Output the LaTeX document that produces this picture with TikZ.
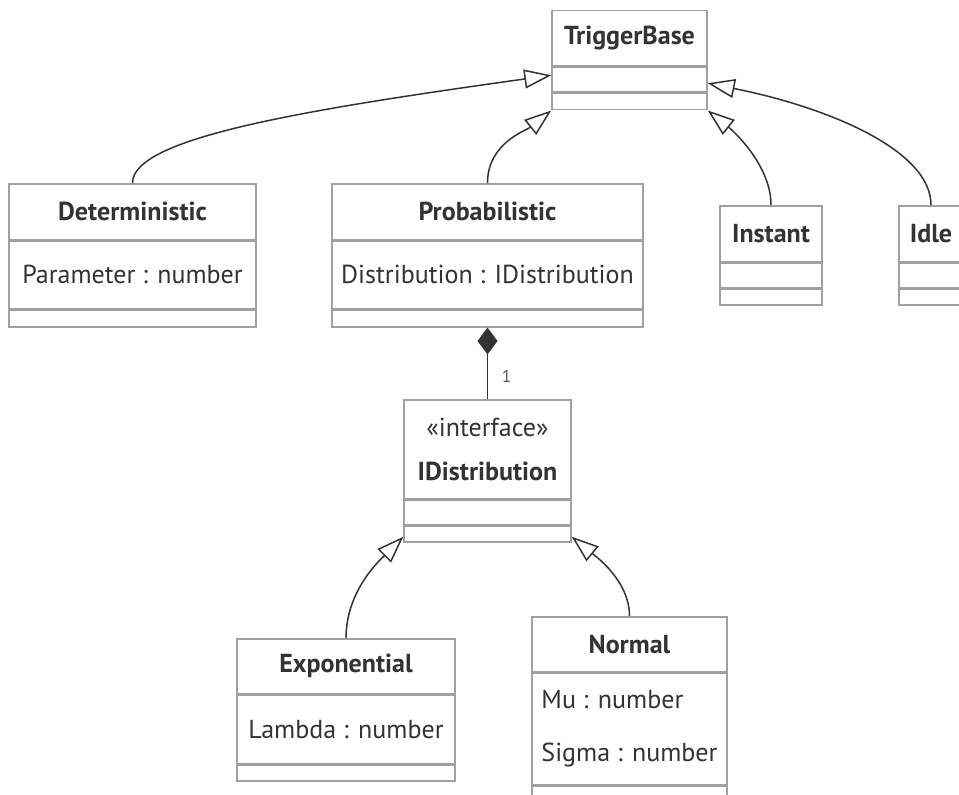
\documentclass[tikz,border=0pt]{standalone}
\usepackage{fontspec}
\setmainfont{PT Sans}
\usepackage{xcolor}
\usetikzlibrary{shapes,arrows.meta,positioning}
\definecolor{boxcolor}{RGB}{160,160,160}
\definecolor{textcolor}{RGB}{51,51,51}
\definecolor{linkcolor}{RGB}{51,51,51}
\definecolor{multcolor}{RGB}{90,90,90}
\newcommand{\px}{0.75pt}

\begin{document}
\begin{tikzpicture}[
    x=\px, y=-\px,
    every node/.style={font=\fontsize{19.5}{23}\selectfont, text=textcolor},
    classhead/.style={rectangle, draw=boxcolor, line width=1.5*\px, fill=white, inner sep=0pt, align=center, font=\fontsize{19.5}{23}\selectfont\bfseries},
    classbody/.style={rectangle, draw=boxcolor, line width=1.5*\px, fill=white, inner sep=0pt, align=left},
    inherit/.style={-{Triangle[open, length=27*\px, width=19*\px]}, draw=linkcolor, line width=1.5*\px},
    compose/.style={{Diamond[length=27*\px, width=20*\px]}-, draw=linkcolor, line width=1.5*\px},
    mult/.style={font=\fontsize{13}{15}\selectfont, text=multcolor}
]

% canvas
\useasboundingbox (0,0) rectangle (959,795);
\clip (0,0) rectangle (959,795);
\fill[white] (0,0) rectangle (959,795);

% Base class on top
\node[classhead, minimum width=155*\px, minimum height=55*\px, anchor=north] (base) at (629.5,10) {TriggerBase};
\node[classbody, minimum width=155*\px, minimum height=25*\px, below=0pt of base] (baseattr) {};
\node[classbody, minimum width=155*\px, minimum height=16*\px, below=0pt of baseattr] (baseops) {};

% Trigger classes - one row
\node[classhead, minimum width=247*\px, minimum height=56*\px, anchor=north] (det) at (132.5,183) {Deterministic};
\node[classbody, minimum width=247*\px, minimum height=67*\px, below=0pt of det] (detattr) {Parameter : number};
\node[classbody, minimum width=247*\px, minimum height=17*\px, below=0pt of detattr] (detops) {};

\node[classhead, minimum width=311*\px, minimum height=56*\px, anchor=north] (prob) at (487.5,183) {Probabilistic};
\node[classbody, minimum width=311*\px, minimum height=67*\px, below=0pt of prob] (probattr) {Distribution : IDistribution};
\node[classbody, minimum width=311*\px, minimum height=17*\px, below=0pt of probattr] (probops) {};

\node[classhead, minimum width=102*\px, minimum height=56*\px, anchor=north] (inst) at (771,205) {Instant};
\node[classbody, minimum width=102*\px, minimum height=24*\px, below=0pt of inst] (instattr) {};
\node[classbody, minimum width=102*\px, minimum height=16*\px, below=0pt of instattr] (instops) {};

\node[classhead, minimum width=64*\px, minimum height=56*\px, anchor=north] (idle) at (931,205) {Idle};
\node[classbody, minimum width=64*\px, minimum height=24*\px, below=0pt of idle] (idleattr) {};
\node[classbody, minimum width=64*\px, minimum height=16*\px, below=0pt of idleattr] (idleops) {};

% Interface
\node[classhead, minimum width=167*\px, minimum height=99*\px, anchor=north] (dist) at (487.5,399) {\mdseries«interface»\\[13*\px]IDistribution};
\node[classbody, minimum width=167*\px, minimum height=24*\px, below=0pt of dist] (distattr) {};
\node[classbody, minimum width=167*\px, minimum height=16*\px, below=0pt of distattr] (distops) {};

% Distributions
\node[classhead, minimum width=218*\px, minimum height=55*\px, anchor=north] (expo) at (346,638) {Exponential};
\node[classbody, minimum width=218*\px, minimum height=68*\px, below=0pt of expo] (expoattr) {Lambda : number};
\node[classbody, minimum width=218*\px, minimum height=16*\px, below=0pt of expoattr] (expoops) {};

\node[classhead, minimum width=195*\px, minimum height=55*\px, anchor=north] (norm) at (629.5,616) {Normal};
\node[classbody, minimum width=195*\px, minimum height=111*\px, below=0pt of norm, font=\fontsize{19.5}{39.75}\selectfont] (normattr) {Mu : number\\Sigma : number};
\node[classbody, minimum width=195*\px, minimum height=16*\px, below=0pt of normattr] (normops) {};

% Inheritance
\draw[inherit] (det.north) .. controls +(0,-45) and +(-250,35) .. ([yshift=4.5*\px]baseattr.west);
\draw[inherit] (prob.north) .. controls +(0,-40) and +(-25,20) .. (baseops.south west);
\draw[inherit] (inst.north) .. controls +(0,-40) and +(25,20) .. (baseops.south east);
\draw[inherit] (idle.north) .. controls +(0,-55) and +(120,24) .. ([yshift=-3.5*\px]baseattr.east);

\draw[inherit] (expo.north) .. controls +(0,-48) and +(-22,22) .. ([yshift=-3*\px]distops.west);
\draw[inherit] (norm.north) .. controls +(0,-36) and +(22,18) .. ([yshift=-3*\px]distops.east);

% Composition
\draw[compose] (probops.south) -- (dist.north) node[pos=0.68, xshift=19*\px, mult] {1};

\end{tikzpicture}
\end{document}
